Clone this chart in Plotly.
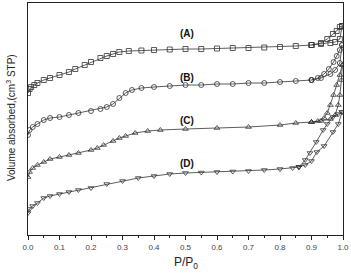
import plotly.graph_objects as go

# ---- data (P/P0 vs volume adsorbed, arbitrary offset units) ----
# Sample A (squares)
a_low_x = [0, 0.005, 0.01, 0.02, 0.03, 0.05, 0.07, 0.10, 0.13, 0.15, 0.18, 0.20, 0.23, 0.25, 0.27, 0.29, 0.32, 0.36, 0.40, 0.45, 0.50, 0.55, 0.60, 0.65, 0.70, 0.75, 0.80, 0.85, 0.90]
a_low_y = [142, 146, 148, 150, 152, 155, 157, 160, 163, 166, 170, 173, 177, 179, 181, 183, 184, 184.5, 185, 185.5, 186, 186, 186.5, 187, 187, 187.5, 188, 189, 190]
a_ads_x = [0.90, 0.93, 0.96, 0.975, 0.99, 0.997]
a_ads_y = [190, 191, 192, 193, 196, 209]
a_des_x = [0.997, 0.99, 0.98, 0.968, 0.95, 0.93, 0.90]
a_des_y = [209, 208, 204, 201, 196, 192, 190]

# Sample B (circles)
b_low_x = [0, 0.005, 0.015, 0.03, 0.05, 0.07, 0.10, 0.13, 0.16, 0.20, 0.23, 0.25, 0.27, 0.29, 0.31, 0.33, 0.36, 0.40, 0.45, 0.50, 0.55, 0.60, 0.65, 0.70, 0.75, 0.80, 0.85, 0.90]
b_low_y = [100, 105, 108, 111, 115, 117, 118, 120, 122, 124, 126, 128, 131, 137, 142, 145, 147, 148, 149, 150, 150, 151, 151, 152, 152, 153, 154, 155]
b_ads_x = [0.90, 0.93, 0.96, 0.975, 0.99, 0.997]
b_ads_y = [155, 157, 161, 165, 172, 190]
b_des_x = [0.997, 0.99, 0.98, 0.97, 0.955, 0.94, 0.92, 0.90]
b_des_y = [190, 185, 179, 173, 166, 161, 157, 155]

# Sample C (up triangles)
c_low_x = [0, 0.005, 0.015, 0.03, 0.05, 0.07, 0.10, 0.13, 0.16, 0.20, 0.22, 0.24, 0.27, 0.29, 0.31, 0.34, 0.38, 0.42, 0.50, 0.60, 0.70, 0.80, 0.85, 0.90]
c_low_y = [58, 63, 67, 70, 73, 76, 78, 80, 82, 85, 87, 90, 94, 97, 99, 102, 104, 105, 106, 107, 108, 110, 112, 113]
c_ads_x = [0.90, 0.93, 0.96, 0.975, 0.985, 0.99, 0.995, 0.998]
c_ads_y = [113, 114, 116, 120, 130, 140, 155, 170]
c_des_x = [0.998, 0.99, 0.98, 0.97, 0.96, 0.95, 0.94, 0.92, 0.90]
c_des_y = [170, 160, 150, 140, 130, 122, 117, 114, 113]

# Sample D (down triangles)
d_low_x = [0, 0.005, 0.015, 0.03, 0.05, 0.07, 0.10, 0.13, 0.16, 0.20, 0.25, 0.30, 0.35, 0.40, 0.45, 0.50, 0.55, 0.60, 0.65, 0.70, 0.75, 0.80, 0.84, 0.86]
d_low_y = [22, 26, 29, 32, 37, 39, 41, 43, 45, 47, 51, 54, 57, 59, 61, 62, 62.5, 63, 63.5, 64, 65, 66, 67, 68]
d_ads_x = [0.86, 0.88, 0.90, 0.917, 0.94, 0.968, 0.985, 0.997]
d_ads_y = [68, 70, 74, 83, 89, 103, 111, 123]
d_des_x = [0.997, 0.985, 0.968, 0.95, 0.937, 0.915, 0.895, 0.88, 0.86]
d_des_y = [123, 121, 118, 111, 105, 93, 82, 75, 68]

labels = ["(A)", "(B)", "(C)", "(D)"]
label_x = [0.505, 0.505, 0.505, 0.505]
label_y = [202, 158, 115, 72]

x_ticks = [0.0, 0.1, 0.2, 0.3, 0.4, 0.5, 0.6, 0.7, 0.8, 0.9, 1.0]
x_tick_text = ["0.0", "0.1", "0.2", "0.3", "0.4", "0.5", "0.6", "0.7", "0.8", "0.9", "1.0"]

# ---- figure ----
LINE = "#333333"
fig = go.Figure()
series = [
    (a_low_x, a_low_y, a_ads_x, a_ads_y, a_des_x, a_des_y, "square-open"),
    (b_low_x, b_low_y, b_ads_x, b_ads_y, b_des_x, b_des_y, "circle-open"),
    (c_low_x, c_low_y, c_ads_x, c_ads_y, c_des_x, c_des_y, "triangle-up-open"),
    (d_low_x, d_low_y, d_ads_x, d_ads_y, d_des_x, d_des_y, "triangle-down-open"),
]
for lx, ly, ax, ay, dx, dy, sym in series:
    for xs, ys in ((lx, ly), (ax, ay), (dx, dy)):
        fig.add_trace(go.Scatter(
            x=xs, y=ys, mode="lines+markers",
            line=dict(color=LINE, width=0.8),
            marker=dict(symbol=sym, size=5, color=LINE, line=dict(width=0.8, color=LINE)),
            showlegend=False, hoverinfo="skip"))

for t, x, y in zip(labels, label_x, label_y):
    fig.add_annotation(x=x, y=y, xref="x", yref="y", text="<b>" + t + "</b>",
                       showarrow=False, font=dict(family="Liberation Sans", size=10, color="#111"))

fig.add_annotation(x=0.5, y=0, xref="paper", yref="paper", yshift=-28,
                   xanchor="center", yanchor="middle",
                   text="P/P<sub>0</sub>", showarrow=False,
                   font=dict(family="Liberation Sans", size=12, color="#222"))
fig.add_annotation(x=0, y=0.504, xref="paper", yref="paper", xshift=-17,
                   xanchor="center", yanchor="middle",
                   text="Volume absorbed,(cm<sup>3</sup> STP)", textangle=-90, showarrow=False,
                   font=dict(family="Liberation Sans", size=10, color="#222"))

fig.update_layout(
    width=351, height=273,
    margin=dict(l=28, r=8, t=3, b=38),
    paper_bgcolor="white", plot_bgcolor="white",
    xaxis=dict(range=[0, 1.0], tickvals=x_ticks, ticktext=x_tick_text,
               ticks="outside", ticklen=4, tickwidth=1, tickcolor="#222",
               minor=dict(dtick=0.05, ticks="outside", ticklen=2, tickcolor="#222"),
               showline=True, linecolor="#222", linewidth=1, mirror=True,
               showgrid=False, zeroline=False,
               tickfont=dict(family="Liberation Sans", size=8, color="#444")),
    yaxis=dict(range=[0, 232], showticklabels=False, ticks="",
               showline=True, linecolor="#222", linewidth=1, mirror=True,
               showgrid=False, zeroline=False),
)
fig.write_html("out.html")
